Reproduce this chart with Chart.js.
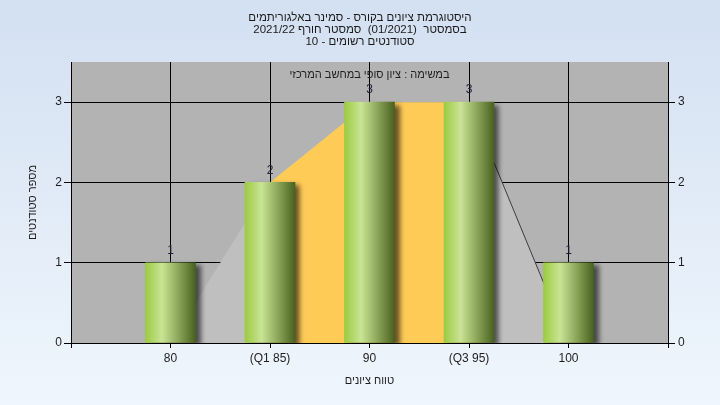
<!DOCTYPE html>
<html>
<head>
<meta charset="utf-8">
<script src="https://cdn.jsdelivr.net/npm/chart.js@4.4.1/dist/chart.umd.min.js"></script>
<style>
  html, body { margin: 0; padding: 0; background: #e4edf8; }
  canvas { display: block; }
</style>
</head>
<body>
<canvas id="c" width="720" height="405" dir="rtl"></canvas>
<script>
// ---- data ----
const titleLines = [
  'היסטוגרמת ציונים בקורס - סמינר באלגוריתמים',
  'בסמסטר  (01/2021)  סמסטר חורף 2021/22',
  'סטודנטים רשומים - 10'
];
const subTitle = 'במשימה : ציון סופי במחשב המרכזי';
const xAxisTitle = 'טווח ציונים';
const yAxisTitle = 'מספר סטודנטים';
const categories = ['80', '(Q1 85)', '90', '(Q3 95)', '100'];
const counts = [1, 2, 3, 3, 1];
const spreadCurve = [0, 2, 3, 3, 0];   // grey spread area at each category
const iqrRange = [1, 3];               // Q1 .. Q3 category indices (orange band)
const yTicks = [0, 1, 2, 3];

// ---- derived ----
const pos = categories.map((_, i) => i + 1);
const barData = counts.map((v, i) => ({ x: pos[i], y: v }));
const spreadData = spreadCurve.map((v, i) => ({ x: pos[i], y: v }));
const iqrData = spreadData.slice(iqrRange[0], iqrRange[1] + 1);
const tailData = spreadData.slice(iqrRange[1], spreadData.length);

const FONT = "'Liberation Sans', Arial, sans-serif";
Chart.defaults.font.family = FONT;
Chart.defaults.font.size = 12;
Chart.defaults.color = '#1e1e1e';

function barGradient(c) {
  const chart = c.chart;
  if (!chart.chartArea || c.type !== 'data' || !chart.scales.x) return '#9fcb4c';
  const px = chart.scales.x.getPixelForValue(c.parsed.x);
  const g = chart.ctx.createLinearGradient(px - 25, 0, px + 25, 0);
  g.addColorStop(0, '#9ccb42');
  g.addColorStop(0.33, '#c9e494');
  g.addColorStop(0.62, '#93ae60');
  g.addColorStop(1, '#48621f');
  return g;
}

const bgPlugin = {
  id: 'bg',
  beforeDraw(chart) {
    const { ctx, width, height, chartArea: a } = chart;
    ctx.save();
    const g = ctx.createLinearGradient(0, 0, 0, height);
    g.addColorStop(0, '#d3e0f1');
    g.addColorStop(1, '#eff6fd');
    ctx.fillStyle = g;
    ctx.fillRect(0, 0, width, height);
    ctx.fillStyle = '#b3b3b3';
    ctx.fillRect(a.left, a.top, a.right - a.left, a.bottom - a.top);
    ctx.restore();
  }
};

const shadowPlugin = {
  id: 'barShadow',
  beforeDatasetDraw(chart, args) {
    if (chart.data.datasets[args.index].type !== 'bar') return;
    const ctx = chart.ctx;
    ctx.save();
    ctx.shadowColor = 'rgba(0,0,0,0.6)';
    ctx.shadowBlur = 5;
    ctx.shadowOffsetX = 5;
    ctx.shadowOffsetY = 3;
  },
  afterDatasetDraw(chart, args) {
    if (chart.data.datasets[args.index].type !== 'bar') return;
    chart.ctx.restore();
  }
};

const labelPlugin = {
  id: 'labels',
  afterDatasetsDraw(chart) {
    const { ctx, chartArea: a, scales } = chart;
    ctx.save();
    ctx.direction = 'rtl';
    ctx.font = '11px ' + FONT;
    ctx.fillStyle = '#1e1e1e';
    ctx.textAlign = 'center';
    ctx.textBaseline = 'middle';
    ctx.fillText(subTitle, (a.left + a.right) / 2, a.top + 13);
    ctx.font = '12px ' + FONT;
    ctx.fillStyle = '#20203a';
    barData.forEach(p => {
      const x = scales.x.getPixelForValue(p.x);
      const y = scales.y.getPixelForValue(p.y);
      ctx.fillText(String(p.y), x, y - 12);
    });
    ctx.restore();
  }
};

new Chart(document.getElementById('c'), {
  type: 'bar',
  data: {
    datasets: [
      {
        type: 'bar', data: barData, order: 0,
        backgroundColor: barGradient, borderWidth: 0, barThickness: 50
      },
      {
        type: 'line', data: tailData, order: 1,
        borderColor: '#3c3c3c', borderWidth: 1, pointRadius: 0, fill: false, tension: 0
      },
      {
        type: 'line', data: iqrData, order: 2,
        borderWidth: 0, borderColor: 'rgba(0,0,0,0)', backgroundColor: '#ffcb57',
        pointRadius: 0, fill: 'origin', tension: 0
      },
      {
        type: 'line', data: spreadData, order: 3,
        borderWidth: 0, borderColor: 'rgba(0,0,0,0)', backgroundColor: '#bfbfbf',
        pointRadius: 0, fill: 'origin', tension: 0
      }
    ]
  },
  options: {
    responsive: false,
    animation: false,
    layout: { padding: 0 },
    plugins: {
      legend: { display: false },
      tooltip: { enabled: false },
      title: {
        display: true,
        text: titleLines,
        color: '#1a1a1a',
        font: { size: 11.5, lineHeight: 12 / 11.5, weight: 'normal' },
        padding: { top: 12, bottom: 14 }
      }
    },
    scales: {
      x: {
        type: 'linear', min: 0, max: categories.length + 1, offset: false,
        afterFit(s) { s.height = 62; },
        grid: { color: '#000', lineWidth: 1, tickLength: 5, offset: false, drawTicks: true },
        border: { color: '#000', width: 1 },
        ticks: {
          stepSize: 1, autoSkip: false, maxRotation: 0, padding: 3, color: '#1e1e1e',
          callback: v => (v >= 1 && v <= categories.length) ? categories[v - 1] : ''
        },
        title: { display: true, text: xAxisTitle, color: '#1e1e1e', font: { size: 11 }, padding: { top: 0, bottom: 17 } }
      },
      y: {
        position: 'left', min: 0, max: 3.5,
        afterFit(s) { s.width = 71; },
        grid: { color: '#000', lineWidth: 1, tickLength: 7 },
        border: { color: '#000', width: 1 },
        ticks: { stepSize: 1, includeBounds: false, padding: 2, color: '#1e1e1e',
          callback: v => yTicks.includes(v) ? String(v) : '' },
        title: { display: true, text: yAxisTitle, color: '#1e1e1e', font: { size: 11 }, padding: { top: 26, bottom: 0 } }
      },
      y2: {
        position: 'right', min: 0, max: 3.5,
        afterFit(s) { s.width = 52; },
        grid: { drawOnChartArea: false, color: '#000', tickLength: 7 },
        border: { color: '#000', width: 1 },
        ticks: { stepSize: 1, includeBounds: false, padding: 3, color: '#1e1e1e',
          callback: v => yTicks.includes(v) ? String(v) : '' }
      }
    }
  },
  plugins: [bgPlugin, shadowPlugin, labelPlugin]
});
</script>
</body>
</html>
